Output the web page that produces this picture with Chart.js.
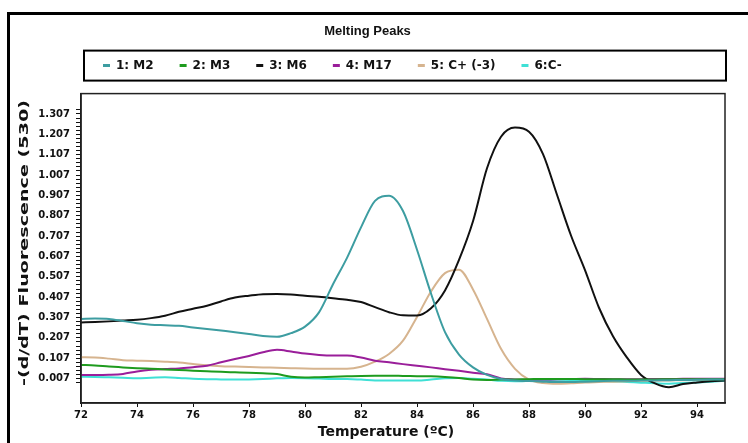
<!DOCTYPE html>
<html>
<head>
<meta charset="utf-8">
<script src="https://cdn.jsdelivr.net/npm/chart.js@4"></script>
<style>
  body { margin: 0; background: #fff; }
  canvas { display: block; }
</style>
</head>
<body>
<canvas id="grafico" width="748" height="443"></canvas>
<script>
// temperaturas (eixo x)
const temps = [72, 72.5, 73, 73.5, 74, 74.5, 75, 75.5, 76, 76.5, 77, 77.5, 78, 78.5, 79, 79.5,
  80, 80.5, 81, 81.5, 82, 82.5, 83, 83.5, 84, 84.5, 85, 85.5, 86, 86.5, 87, 87.5,
  88, 88.5, 89, 89.5, 90, 90.5, 91, 91.5, 92, 92.5, 93, 93.5, 94, 94.5, 95];

// -(d/dT) por amostra
const m2 = [0.300, 0.302, 0.300, 0.290, 0.279, 0.272, 0.269, 0.266, 0.258, 0.251, 0.243, 0.235, 0.226, 0.216, 0.212, 0.230,
  0.262, 0.332, 0.470, 0.600, 0.750, 0.880, 0.905, 0.830, 0.640, 0.425, 0.235, 0.125, 0.062, 0.025, 0.005, -0.003,
  -0.005, -0.008, -0.010, -0.010, -0.008, -0.006, -0.004, -0.004, -0.003, -0.002, -0.001, 0.000, 0.001, 0.002, 0.002];
const m3 = [0.074, 0.071, 0.066, 0.062, 0.058, 0.055, 0.052, 0.049, 0.046, 0.043, 0.040, 0.038, 0.036, 0.033, 0.029, 0.016,
  0.012, 0.014, 0.016, 0.018, 0.020, 0.021, 0.021, 0.020, 0.019, 0.018, 0.015, 0.010, 0.002, 0.000, 0.002, 0.003,
  0.004, 0.005, 0.005, 0.005, 0.004, 0.004, 0.004, 0.003, 0.003, 0.003, 0.004, 0.004, 0.004, 0.004, 0.004];
const m6 = [0.283, 0.285, 0.288, 0.292, 0.296, 0.304, 0.316, 0.335, 0.350, 0.365, 0.386, 0.405, 0.414, 0.421, 0.422, 0.420,
  0.414, 0.409, 0.402, 0.394, 0.383, 0.358, 0.333, 0.318, 0.317, 0.352, 0.440, 0.590, 0.780, 1.040, 1.195, 1.240,
  1.220, 1.110, 0.910, 0.710, 0.540, 0.355, 0.215, 0.110, 0.025, -0.017, -0.036, -0.020, -0.012, -0.006, -0.003];
const m17 = [0.025, 0.025, 0.026, 0.030, 0.042, 0.050, 0.054, 0.057, 0.063, 0.070, 0.087, 0.103, 0.118, 0.136, 0.148, 0.140,
  0.130, 0.123, 0.120, 0.120, 0.110, 0.095, 0.087, 0.078, 0.070, 0.062, 0.053, 0.045, 0.036, 0.028, 0.008, 0.003,
  0.001, 0.002, 0.004, 0.005, 0.006, 0.005, 0.004, 0.004, 0.004, 0.005, 0.005, 0.006, 0.006, 0.006, 0.006];
const cPos = [0.112, 0.111, 0.105, 0.097, 0.095, 0.093, 0.090, 0.086, 0.079, 0.072, 0.068, 0.066, 0.064, 0.062, 0.060, 0.058,
  0.056, 0.055, 0.055, 0.055, 0.065, 0.090, 0.128, 0.193, 0.310, 0.435, 0.525, 0.542, 0.445, 0.300, 0.153, 0.055,
  0.002, -0.015, -0.019, -0.016, -0.012, -0.010, -0.008, -0.006, -0.004, -0.003, -0.002, -0.001, 0.000, 0.000, 0.001];
const cNeg = [0.016, 0.015, 0.013, 0.011, 0.009, 0.011, 0.013, 0.010, 0.006, 0.004, 0.003, 0.002, 0.003, 0.005, 0.008, 0.010,
  0.009, 0.007, 0.005, 0.005, 0.002, -0.002, -0.003, -0.003, -0.003, 0.002, 0.008, 0.010, 0.006, 0.002, -0.004, -0.006,
  -0.004, -0.001, 0.001, 0.000, -0.003, -0.005, -0.007, -0.010, -0.013, -0.016, -0.018, -0.015, -0.012, -0.008, -0.004];

const xTickLabels = [72, 74, 76, 78, 80, 82, 84, 86, 88, 90, 92, 94];
const yTickLabels = ['0.007', '0.107', '0.207', '0.307', '0.407', '0.507', '0.607', '0.707',
  '0.807', '0.907', '1.007', '1.107', '1.207', '1.307'];

const xTitle = 'Temperature (ºC)';
const yTitle = '-(d/dT) Fluorescence (530)';

// ticks menores a cada 0.02
const yTickValues = [];
for (let k = -1; k <= 66; k++) yTickValues.push(+(0.007 + 0.02 * k).toFixed(3));

const serie = (label, valores, cor) => ({
  label: label,
  data: temps.map((t, i) => ({ x: t, y: valores[i] })),
  borderColor: cor,
  backgroundColor: cor,
  borderWidth: 2,
  pointRadius: 0,
  cubicInterpolationMode: 'monotone'
});

const ajusteLegenda = {
  id: 'ajusteLegenda',
  beforeInit(chart) {
    const fit = chart.legend.fit;
    chart.legend.fit = function () {
      fit.call(this);
      this.height = 47;
    };
  },
  afterLayout(chart) {
    const lg = chart.legend, a = chart.chartArea;
    lg.left = a.left - 4;
    lg.right = a.right;
    lg.top = a.top - 60;
    lg.bottom = a.top - 12;
  }
};

const molduras = {
  id: 'molduras',
  beforeDraw(chart) {
    const ctx = chart.ctx;
    ctx.save();
    ctx.fillStyle = '#fff';
    ctx.fillRect(0, 0, chart.width, chart.height);
    ctx.restore();
  },
  afterDraw(chart) {
    const { ctx, chartArea: a } = chart;
    ctx.save();
    ctx.strokeStyle = '#000';
    ctx.lineWidth = 3;
    ctx.strokeRect(8.5, 13.5, 800, 500);
    ctx.lineWidth = 2;
    ctx.strokeRect(a.left + 3, a.top - 43, a.right - a.left - 2, 30);
    ctx.lineWidth = 1.5;
    ctx.strokeStyle = '#222';
    ctx.strokeRect(a.left, a.top, a.right - a.left, a.bottom - a.top);

    ctx.fillStyle = '#111';
    ctx.textAlign = 'center';
    ctx.textBaseline = 'middle';
    ctx.font = 'bold 14px "DejaVu Sans"';
    ctx.fillText(xTitle, 386, 432);
    ctx.translate(25, 243);
    ctx.rotate(-Math.PI / 2);
    ctx.font = 'bold 13px "DejaVu Sans"';
    const w = ctx.measureText(yTitle).width;
    ctx.scale(286 / w, 1);
    ctx.fillText(yTitle, 0, 0);
    ctx.restore();
  }
};

Chart.defaults.font.family = '"DejaVu Sans", sans-serif';
Chart.defaults.color = '#111';

new Chart(document.getElementById('grafico'), {
  type: 'line',
  data: {
    datasets: [
      serie('1: M2', m2, '#3d9da1'),
      serie('2: M3', m3, '#1e9b1e'),
      serie('3: M6', m6, '#111111'),
      serie('4: M17', m17, '#9a1e9a'),
      serie('5: C+ (-3)', cPos, '#d6b48f'),
      serie('6:C-', cNeg, '#3fe0d5')
    ]
  },
  options: {
    responsive: false,
    animation: false,
    layout: { padding: { left: 10, right: 23, top: 15, bottom: 0 } },
    plugins: {
      title: {
        display: true,
        text: 'Melting Peaks',
        font: { family: '"Liberation Sans", sans-serif', size: 13, weight: 'bold' },
        color: '#111',
        padding: { top: 9, bottom: 7 }
      },
      legend: {
        align: 'start',
        labels: {
          boxWidth: 7,
          boxHeight: 3,
          padding: 26,
          font: { size: 12, weight: 'bold' },
          color: '#111',
          generateLabels: chart => Chart.defaults.plugins.legend.labels.generateLabels(chart)
            .map(l => Object.assign(l, { lineWidth: 0 }))
        }
      },
      tooltip: { enabled: false }
    },
    scales: {
      x: {
        type: 'linear',
        min: 72,
        max: 95,
        afterBuildTicks: s => { s.ticks = xTickLabels.map(v => ({ value: v })); },
        afterFit: s => { s.height = 40; },
        ticks: { autoSkip: false, maxRotation: 0, padding: 2, font: { size: 10, weight: 'bold' }, color: '#111' },
        grid: { drawOnChartArea: false, tickLength: 4, tickColor: '#111' },
        border: { color: '#111', width: 1.5 }
      },
      y: {
        min: -0.113,
        max: 1.407,
        afterBuildTicks: s => { s.ticks = yTickValues.map(v => ({ value: v })); },
        afterFit: s => { s.width = 71; },
        ticks: {
          autoSkip: false,
          padding: 6,
          font: { size: 10, weight: 'bold' },
          color: '#111',
          callback: v => yTickLabels.includes(v.toFixed(3)) ? v.toFixed(3) : ''
        },
        grid: { drawOnChartArea: false, tickLength: 5, tickColor: '#111' },
        border: { color: '#111', width: 1.5 }
      }
    }
  },
  plugins: [ajusteLegenda, molduras]
});
</script>
</body>
</html>
